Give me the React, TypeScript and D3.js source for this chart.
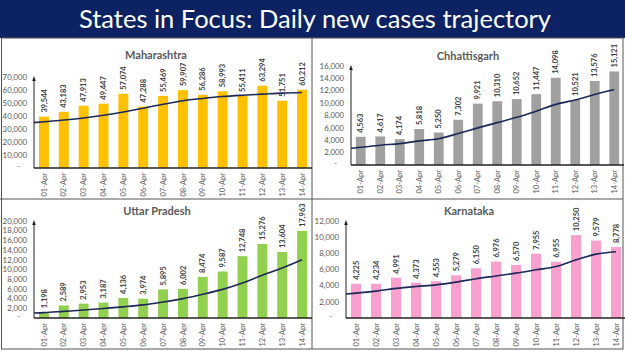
import React from "react";
import * as d3 from "d3";

const days = [
  "01-Apr", "02-Apr", "03-Apr", "04-Apr", "05-Apr", "06-Apr", "07-Apr",
  "08-Apr", "09-Apr", "10-Apr", "11-Apr", "12-Apr", "13-Apr", "14-Apr",
];

// daily new cases
const maharashtra = [39544, 43183, 47913, 49447, 57074, 47288, 55469, 59907, 56286, 58993, 55411, 63294, 51751, 60212];
const chhattisgarh = [4563, 4617, 4174, 5818, 5250, 7302, 9921, 10310, 10652, 11447, 14098, 10521, 13576, 15121];
const uttarPradesh = [1198, 2589, 2953, 3187, 4136, 3974, 5895, 6002, 8474, 9587, 12748, 15276, 13604, 17963];
const karnataka = [4225, 4234, 4991, 4373, 4553, 5279, 6150, 6976, 6570, 7955, 6955, 10250, 9579, 8778];

// trend line (first value sits on the y axis)
const maharashtraTrend = [34900, 35600, 36900, 38500, 40600, 43100, 46000, 49000, 51700, 53500, 55000, 56000, 56800, 57600, 58100];
const chhattisgarhTrend = [2700, 2860, 3200, 3450, 3900, 4250, 5100, 6000, 6850, 7700, 8700, 9800, 10500, 11400, 12200];
const uttarPradeshTrend = [1030, 1100, 1370, 1640, 1970, 2300, 2700, 3300, 4000, 4900, 5900, 7200, 8800, 10300, 12000];
const karnatakaTrend = [2960, 3080, 3330, 3660, 3900, 4100, 4440, 4850, 5200, 5550, 5960, 6370, 7200, 7900, 8200];

const maharashtraTicks = [10000, 20000, 30000, 40000, 50000, 60000, 70000];
const chhattisgarhTicks = [2000, 4000, 6000, 8000, 10000, 12000, 14000, 16000];
const uttarPradeshTicks = [2000, 4000, 6000, 8000, 10000, 12000, 14000, 16000, 18000, 20000];
const karnatakaTicks = [2000, 4000, 6000, 8000, 10000, 12000];

const W = 625;
const H = 351;
const font = "Lato, 'Open Sans', sans-serif";
const fmt = d3.format(",");

interface PanelProps {
  title: string;
  values: number[];
  trend: number[];
  ticks: number[];
  color: string;
  left: number;
  right: number;
  bottom: number;
  top: number;
  titleX: number;
  titleY: number;
}

function Panel(p: PanelProps) {
  const yMax = p.ticks[p.ticks.length - 1];
  const y = d3.scaleLinear().domain([0, yMax]).range([p.bottom, p.top]);
  const x = d3
    .scaleBand<string>()
    .domain(days)
    .range([p.left, p.right])
    .paddingInner(0.5)
    .paddingOuter(0.25);
  const cx = (d: string) => (x(d) ?? 0) + x.bandwidth() / 2;

  const pts: [number, number][] = p.trend.map((v, i) => [
    i === 0 ? p.left : cx(days[i - 1]),
    y(v),
  ]);
  const line = d3.line().curve(d3.curveMonotoneX)(pts) ?? "";

  return (
    <g fontFamily={font}>
      <text
        x={p.titleX}
        y={p.titleY}
        textAnchor="middle"
        fontSize={11}
        fontWeight="bold"
        fill="#595959"
      >
        {p.title}
      </text>

      {p.values.map((v, i) => (
        <rect
          key={days[i]}
          x={x(days[i])}
          y={y(v)}
          width={x.bandwidth()}
          height={p.bottom - y(v)}
          fill={p.color}
        />
      ))}

      {p.values.map((v, i) => (
        <text
          key={"l" + days[i]}
          transform={`translate(${cx(days[i]) + 2.6},${y(v) - 4}) rotate(-90)`}
          fontSize={7.5}
          fontWeight="bold"
          fill="#404040"
        >
          {fmt(v)}
        </text>
      ))}

      <path d={line} fill="none" stroke="#1c2857" strokeWidth={1.6} />

      {/* axes */}
      <line x1={p.left} x2={p.right} y1={p.bottom} y2={p.bottom} stroke="#222" strokeWidth={1.3} />
      <line x1={p.left} x2={p.left} y1={p.bottom} y2={y(yMax) + 3} stroke="#222" strokeWidth={1} />
      <path
        d={`M${p.left - 1.8},${y(yMax) + 4} L${p.left},${y(yMax) - 1} L${p.left + 1.8},${y(yMax) + 4} Z`}
        fill="#222"
      />

      {p.ticks.map((t) => (
        <text
          key={"t" + t}
          x={p.left - 7}
          y={y(t)}
          dy="0.35em"
          textAnchor="end"
          fontSize={7.8}
          fill="#595959"
        >
          {fmt(t)}
        </text>
      ))}
      <text x={p.left - 14} y={y(0)} dy="0.1em" textAnchor="end" fontSize={7.5} fill="#595959">
        -
      </text>

      {days.map((d) => (
        <text
          key={"x" + d}
          transform={`translate(${cx(d) + 2.6},${p.bottom + 5}) rotate(-90)`}
          textAnchor="end"
          fontSize={7.5}
          fill="#595959"
        >
          {d}
        </text>
      ))}
    </g>
  );
}

export default function App() {
  return (
    <div style={{ position: "absolute", left: 0, top: 0 }}>
      <svg width={W} height={H} style={{ display: "block", background: "#fff" }}>
        <rect x={0} y={0} width={W} height={38} fill="#0c2262" />
        <text
          x={315}
          y={28}
          textAnchor="middle"
          fontFamily={font}
          fontSize={25.5}
          fill="#fff"
        >
          States in Focus: Daily new cases trajectory
        </text>

        {/* panel frame */}
        <rect x={1.5} y={38} width={621.5} height={311} fill="none" stroke="#555" strokeWidth={1} />
        <line x1={312} x2={312} y1={38} y2={349} stroke="#555" strokeWidth={1} />
        <line x1={0} x2={623} y1={199} y2={199} stroke="#555" strokeWidth={1} />

        <Panel
          title="Maharashtra"
          values={maharashtra}
          trend={maharashtraTrend}
          ticks={maharashtraTicks}
          color="#ffc000"
          left={34}
          right={312}
          bottom={168}
          top={77}
          titleX={156}
          titleY={59}
        />
        <Panel
          title="Chhattisgarh"
          values={chhattisgarh}
          trend={chhattisgarhTrend}
          ticks={chhattisgarhTicks}
          color="#a0a0a0"
          left={351}
          right={624}
          bottom={165}
          top={66}
          titleX={468}
          titleY={60}
        />
        <Panel
          title="Uttar Pradesh"
          values={uttarPradesh}
          trend={uttarPradeshTrend}
          ticks={uttarPradeshTicks}
          color="#92d050"
          left={34}
          right={312}
          bottom={318}
          top={221}
          titleX={157}
          titleY={215}
        />
        <Panel
          title="Karnataka"
          values={karnataka}
          trend={karnatakaTrend}
          ticks={karnatakaTicks}
          color="#f9a0cf"
          left={346}
          right={626}
          bottom={318}
          top={221}
          titleX={469}
          titleY={215}
        />
      </svg>
    </div>
  );
}
